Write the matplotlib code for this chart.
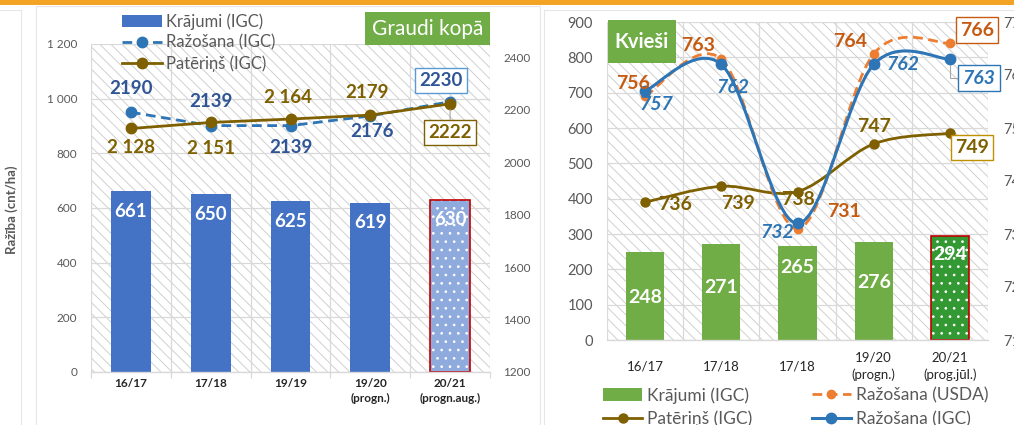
import matplotlib
matplotlib.use('Agg')
import matplotlib.pyplot as plt
from matplotlib.patches import Rectangle, PathPatch, Patch
from matplotlib.path import Path
from matplotlib.lines import Line2D
import numpy as np

plt.rcParams['font.family'] = ['Lato', 'DejaVu Sans']
plt.rcParams['hatch.linewidth'] = 0.7

W, H = 1014, 425

# ---------------- data: left chart (Graudi kopā) ----------------
grain_cats = ['16/17', '17/18', '19/19', '19/20\n(progn.)', '20/21\n(progn.aug.)']
grain_stocks = [661, 650, 625, 619, 630]
grain_prod = [2190, 2139, 2139, 2176, 2230]
grain_cons = [2128, 2151, 2164, 2179, 2222]
grain_yticks = [0, 200, 400, 600, 800, 1000, 1200]
grain_yticklabels = ['0', '200', '400', '600', '800', '1 000', '1 200']
grain_y2ticks = [1200, 1400, 1600, 1800, 2000, 2200, 2400]

# ---------------- data: right chart (Kvieši) ----------------
wheat_cats = ['16/17', '17/18', '17/18', '19/20\n(progn.)', '20/21\n(prog.jūl.)']
wheat_stocks = [248, 271, 265, 276, 294]
wheat_prod_usda = [756, 763, 731, 764, 766]
wheat_prod_igc = [757, 762, 732, 762, 763]
wheat_cons = [736, 739, 738, 747, 749]
wheat_yticks = [0, 100, 200, 300, 400, 500, 600, 700, 800, 900]
wheat_y2ticks = [710, 720, 730, 740, 750, 760, 770]

# ---------------- label layout (pixel offsets) ----------------
grain_prod_off = [(0, 24), (0, 24), (0, -22), (2, -16), (-9, 21)]
grain_cons_off = [(0, -19), (0, -26), (-3, 22), (-3, 23), (0, -29)]
usda_off = [(-12, 13), (-23, 14), (46, 17), (-24, 12), (27, 13)]
igc_off = [(11, -14), (12, -23), (-20, -9), (29, 0), (29, -19)]
cons_off = [(30, -2), (17, -17), (0, -8), (0, 17), (22, -14)]
wheat_bar_drop = [45, 43, 21, 40, 18]

BLUE_BAR = '#4472C4'
BLUE_BAR_LIGHT = '#8FAADC'
BLUE_LINE = '#2E75B6'
BLUE_LBL = '#2F5597'
BROWN = '#7F6000'
ORANGE = '#ED7D31'
ORANGE_LBL = '#C55A11'
GREEN = '#70AD47'
GREEN_DARK = '#339933'
RED = '#C00000'
GRID = '#D9D9D9'
TICK = '#595959'

LBL_FS = 13.5

fig = plt.figure(figsize=(W / 100, H / 100), dpi=100)
fig.patch.set_facecolor('white')


def fx(x):
    return x / W


def fy(y):
    return 1 - y / H


def add_axes_px(x0, y0, x1, y1):
    return fig.add_axes([x0 / W, 1 - y1 / H, (x1 - x0) / W, (y1 - y0) / H])


def fig_rect(x0, y0, x1, y1, **kw):
    fig.add_artist(Rectangle((fx(x0), fy(y1)), (x1 - x0) / W, (y1 - y0) / H,
                             transform=fig.transFigure, **kw))


def fig_line(xs, ys, **kw):
    fig.add_artist(Line2D([fx(x) for x in xs], [fy(y) for y in ys],
                          transform=fig.transFigure, **kw))


def smooth_path(xs, ys):
    xs = np.asarray(xs, float)
    ys = np.asarray(ys, float)
    n = len(xs)
    verts = [(xs[0], ys[0])]
    codes = [Path.MOVETO]
    for i in range(n - 1):
        p0 = np.array([xs[max(i - 1, 0)], ys[max(i - 1, 0)]])
        p1 = np.array([xs[i], ys[i]])
        p2 = np.array([xs[i + 1], ys[i + 1]])
        p3 = np.array([xs[min(i + 2, n - 1)], ys[min(i + 2, n - 1)]])
        c1 = p1 + (p2 - p0) / 6
        c2 = p2 - (p3 - p1) / 6
        verts += [tuple(c1), tuple(c2), tuple(p2)]
        codes += [Path.CURVE4] * 3
    return Path(verts, codes)


def style_base(ax, n, grid_ticks):
    ax.add_patch(Rectangle((0, 0), 1, 1, transform=ax.transAxes, facecolor='white',
                           edgecolor='#D0D0D0', lw=0, hatch='\\\\\\', zorder=0))
    for s in ['top', 'right', 'left']:
        ax.spines[s].set_visible(False)
    ax.spines['bottom'].set_color(GRID)
    ax.spines['bottom'].set_linewidth(1.0)
    for t in grid_ticks:
        ax.axhline(t, color=GRID, lw=0.9, zorder=0.5)
    for b in np.arange(-0.5, n, 1.0):
        ax.axvline(b, color=GRID, lw=0.9, zorder=0.5)
    ax.set_xlim(-0.5, n - 0.5)
    ax.tick_params(axis='y', length=0, colors=TICK)


# ---------------- panel frames / decorations ----------------
fig_rect(0, 0, W, 5, facecolor='#F4A425', edgecolor='none')
fig_line([0, 21], [10, 10], color='#E6E6E6', lw=0.8)
fig_line([21, 21], [10, H], color='#E6E6E6', lw=0.8)
fig_line([36, 540], [6, 6], color='#E6E6E6', lw=0.8)
fig_line([36, 36], [6, H], color='#E6E6E6', lw=0.8)
fig_line([540, 540], [6, H], color='#E6E6E6', lw=0.8)
fig_line([544, W], [10, 10], color='#E6E6E6', lw=0.8)
fig_line([544, 544], [10, H], color='#E6E6E6', lw=0.8)
fig.text(fx(12), fy(210), 'Ražība (cnt/ha)', rotation=90, ha='center', va='center',
         fontsize=9.5, color=TICK, fontweight='bold')

# ================= LEFT CHART =================
n = len(grain_cats)
x = np.arange(n)
ax = add_axes_px(91, 44, 490, 372)
style_base(ax, n, grain_yticks)
ax.set_ylim(0, 1200)
ax.set_yticks(grain_yticks)
ax.set_yticklabels(grain_yticklabels, fontsize=8.5)
ax.tick_params(axis='y', pad=10)
ax.set_xticks(x)
ax.set_xticklabels(grain_cats, fontsize=8.5, color='#262626', fontweight='bold', linespacing=1.5)
ax.tick_params(axis='x', length=0, pad=4)
ax.set_xticks(np.arange(-0.5, n, 1.0), minor=True)
ax.tick_params(axis='x', which='minor', length=4, color=GRID, width=0.9)

bar_colors = [BLUE_BAR] * (n - 1) + [BLUE_BAR_LIGHT]
bars = ax.bar(x, grain_stocks, width=0.5, color=bar_colors, zorder=2, lw=0)
bars[-1].set_hatch('..')
bars[-1].set_edgecolor('white')
ax.bar(x[-1:], grain_stocks[-1:], width=0.5, fill=False, edgecolor=RED, lw=1.2, zorder=2.1)
for xi, v in zip(x, grain_stocks):
    ax.annotate(str(v), (xi, v), xytext=(0, -20), textcoords='offset pixels',
                ha='center', va='center', color='white', fontsize=LBL_FS, fontweight='bold', zorder=3)

ax2 = ax.twinx()
for s in ['top', 'right', 'left', 'bottom']:
    ax2.spines[s].set_visible(False)
ax2.set_ylim(1200, 2450)
ax2.set_yticks(grain_y2ticks)
ax2.set_yticklabels([str(t) for t in grain_y2ticks], fontsize=8.5)
ax2.tick_params(axis='y', length=0, colors=TICK, pad=9.5)

ax2.plot(x, grain_prod, color=BLUE_LINE, ls=(0, (3.5, 2)), lw=2.0, marker='o', ms=7.5, zorder=3)
ax2.plot(x, grain_cons, color=BROWN, ls='-', lw=2.0, marker='o', ms=7.5, zorder=4)

for i, (v, off) in enumerate(zip(grain_prod, grain_prod_off)):
    kw = {}
    if i == n - 1:
        kw['bbox'] = dict(boxstyle='square,pad=0.22', fc='white', ec='#5B9BD5', lw=1.0)
    ax2.annotate(str(v), (i, v), xytext=off, textcoords='offset pixels', ha='center', va='center',
                 color=BLUE_LBL, fontsize=LBL_FS, fontweight='bold', zorder=5, **kw)
for i, (v, off) in enumerate(zip(grain_cons, grain_cons_off)):
    kw = {}
    txt = f'{v:,}'.replace(',', ' ') if i < 3 else str(v)
    if i == n - 1:
        kw['bbox'] = dict(boxstyle='square,pad=0.22', fc='white', ec=BROWN, lw=1.0)
        kw['arrowprops'] = dict(arrowstyle='-', color='#A6A6A6', lw=0.8, shrinkA=0, shrinkB=4)
    ax2.annotate(txt, (i, v), xytext=off, textcoords='offset pixels', ha='center', va='center',
                 color=BROWN, fontsize=LBL_FS, fontweight='bold', zorder=5, **kw)

ax.legend(handles=[Patch(facecolor=BLUE_BAR, edgecolor='none'),
                   Line2D([], [], color=BLUE_LINE, ls=(0, (3.5, 2)), lw=2.0, marker='o', ms=7.5),
                   Line2D([], [], color=BROWN, lw=2.0, marker='o', ms=7.5)],
          labels=['Krājumi (IGC)', 'Ražošana (IGC)', 'Patēriņš (IGC)'],
          loc='upper left', bbox_to_anchor=(fx(122), fy(13)), bbox_transform=fig.transFigure,
          frameon=False, fontsize=12, labelcolor=TICK, borderpad=0, borderaxespad=0,
          handlelength=2.4, handletextpad=0.25, labelspacing=0.3, handleheight=0.7)

fig_rect(365, 12, 490, 45, facecolor=GREEN, edgecolor='none')
fig.text(fx(427.5), fy(29), 'Graudi kopā', ha='center', va='center', color='white', fontsize=15)

# ================= RIGHT CHART =================
n2 = len(wheat_cats)
x2 = np.arange(n2)
bx = add_axes_px(607, 22, 988, 340)
style_base(bx, n2, wheat_yticks)
bx.set_ylim(0, 900)
bx.set_yticks(wheat_yticks)
bx.set_yticklabels([str(t) for t in wheat_yticks], fontsize=10.5)
bx.tick_params(axis='y', pad=10)
bx.set_xticks(x2)
bx.set_xticklabels(wheat_cats, fontsize=9.5, color='#262626', linespacing=1.5)
bx.tick_params(axis='x', length=0, pad=19)
for lbl in bx.get_xticklabels():
    lbl.set_va('center')

wbar_colors = [GREEN] * (n2 - 1) + [GREEN_DARK]
wbars = bx.bar(x2, wheat_stocks, width=0.5, color=wbar_colors, zorder=2, lw=0)
wbars[-1].set_hatch('..')
wbars[-1].set_edgecolor('white')
bx.bar(x2[-1:], wheat_stocks[-1:], width=0.5, fill=False, edgecolor=RED, lw=1.2, zorder=2.1)
for xi, v, d in zip(x2, wheat_stocks, wheat_bar_drop):
    bx.annotate(str(v), (xi, v), xytext=(0, -d), textcoords='offset pixels',
                ha='center', va='center', color='white', fontsize=LBL_FS + 0.5, fontweight='bold', zorder=3)

bx2 = bx.twinx()
for s in ['top', 'right', 'left', 'bottom']:
    bx2.spines[s].set_visible(False)
bx2.set_ylim(710, 770)
bx2.set_yticks(wheat_y2ticks)
bx2.set_yticklabels([str(t) for t in wheat_y2ticks], fontsize=10.5)
bx2.tick_params(axis='y', length=0, colors=TICK, pad=11)

bx2.add_patch(PathPatch(smooth_path(x2, wheat_cons), fill=False, edgecolor=BROWN, lw=2.0, zorder=3))
bx2.plot(x2, wheat_cons, ls='none', marker='o', ms=6.5, color=BROWN, zorder=3.1)
bx2.add_patch(PathPatch(smooth_path(x2, wheat_prod_usda), fill=False, edgecolor=ORANGE, lw=2.0,
                        ls=(0, (3.5, 2)), zorder=3.2))
bx2.plot(x2, wheat_prod_usda, ls='none', marker='o', ms=6, color=ORANGE, zorder=3.3)
bx2.add_patch(PathPatch(smooth_path(x2, wheat_prod_igc), fill=False, edgecolor=BLUE_LINE, lw=2.2, zorder=3.4))
bx2.plot(x2, wheat_prod_igc, ls='none', marker='o', ms=7.5, color=BLUE_LINE, zorder=3.5)

for i, (v, off) in enumerate(zip(wheat_prod_usda, usda_off)):
    kw = {}
    if i == n2 - 1:
        kw['bbox'] = dict(boxstyle='square,pad=0.22', fc='white', ec=ORANGE_LBL, lw=1.0)
    bx2.annotate(str(v), (i, v), xytext=off, textcoords='offset pixels', ha='center', va='center',
                 color=ORANGE_LBL, fontsize=LBL_FS + 0.5, fontweight='bold', zorder=5, **kw)
for i, (v, off) in enumerate(zip(wheat_prod_igc, igc_off)):
    kw = {}
    if i == n2 - 1:
        kw['bbox'] = dict(boxstyle='square,pad=0.22', fc='white', ec=BLUE_LINE, lw=1.0)
        kw['arrowprops'] = dict(arrowstyle='-', color='#A6A6A6', lw=0.8, shrinkA=0, shrinkB=4,
                                connectionstyle='angle,angleA=0,angleB=90,rad=0')
    bx2.annotate(str(v), (i, v), xytext=off, textcoords='offset pixels', ha='center', va='center',
                 color=BLUE_LINE, fontsize=LBL_FS + 0.5, fontweight='bold', fontstyle='italic', zorder=5, **kw)
for i, (v, off) in enumerate(zip(wheat_cons, cons_off)):
    kw = {}
    if i == n2 - 1:
        kw['bbox'] = dict(boxstyle='square,pad=0.22', fc='white', ec='#BF9000', lw=1.0)
    bx2.annotate(str(v), (i, v), xytext=off, textcoords='offset pixels', ha='center', va='center',
                 color=BROWN, fontsize=LBL_FS + 0.5, fontweight='bold', zorder=5, **kw)

fig_rect(608, 20, 676, 63, facecolor=GREEN, edgecolor='none')
fig.text(fx(642), fy(41.5), 'Kvieši', ha='center', va='center', color='white', fontsize=14.5,
         fontweight='bold')

bx.legend(handles=[Patch(facecolor=GREEN, edgecolor='none'),
                   Line2D([], [], color=BROWN, lw=2.0, marker='o', ms=6.5),
                   Line2D([], [], color=ORANGE, ls=(0, (3.5, 2)), lw=2.0, marker='o', ms=6),
                   Line2D([], [], color=BLUE_LINE, lw=2.2, marker='o', ms=7.5)],
          labels=['Krājumi (IGC)', 'Patēriņš (IGC)', 'Ražošana (USDA)', 'Ražošana (IGC)'],
          ncol=2, loc='upper left', bbox_to_anchor=(fx(603), fy(387)), bbox_transform=fig.transFigure,
          frameon=False, fontsize=12.5, labelcolor=TICK, borderpad=0, borderaxespad=0,
          handlelength=2.25, handletextpad=0.3, labelspacing=0.42, columnspacing=3.4,
          handleheight=0.7)

fig.savefig('out.png', dpi=100)
